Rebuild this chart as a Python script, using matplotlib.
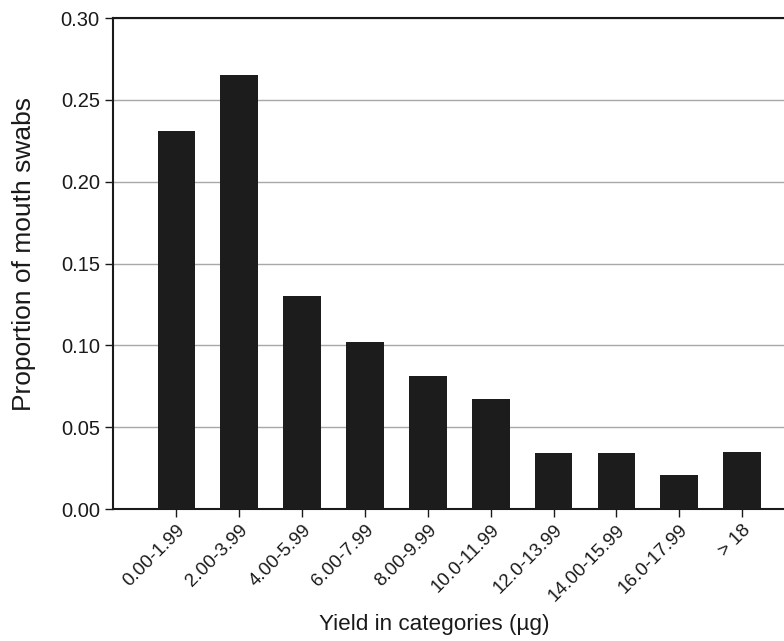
import matplotlib.pyplot as plt
import numpy as np

plt.rcParams['font.family'] = ['Liberation Sans', 'DejaVu Sans']

############## Data ##############

categories = ["0.00-1.99", "2.00-3.99", "4.00-5.99", "6.00-7.99", "8.00-9.99",
              "10.0-11.99", "12.0-13.99", "14.00-15.99", "16.0-17.99", "> 18"]
proportions = [0.231, 0.265, 0.130, 0.102, 0.081, 0.067, 0.034, 0.034, 0.021, 0.035]
yticks = [0.00, 0.05, 0.10, 0.15, 0.20, 0.25, 0.30]

############## Plot ##############

fig = plt.figure(figsize=(7.84, 6.41), dpi=100)
ax = fig.add_axes([0.1441, 0.2059, 0.8559 + 0.01, 0.766])

x = np.arange(len(categories))
ax.bar(x, proportions, width=0.6, color='#1c1c1c', zorder=3)

ax.set_xlim(-1.01, 9.79)
ax.set_ylim(0, 0.30)
ax.set_yticks(yticks)
ax.set_yticklabels(["%.2f" % v for v in yticks], fontsize=14.5)
ax.yaxis.grid(True, color='#a8a8a8', linewidth=1, zorder=0)

ax.set_xticks(x)
ax.set_xticklabels(categories, rotation=45, ha='right', rotation_mode='anchor', fontsize=13.5)

for side in ['left', 'bottom', 'top']:
    ax.spines[side].set_linewidth(1.5)
    ax.spines[side].set_color('#1a1a1a')
ax.spines['right'].set_visible(False)
ax.tick_params(direction='out', length=6, width=1, colors='#1a1a1a')
ax.tick_params(axis='x', pad=3)

# axis titles placed by hand to sit where the reference has them
fig.text(0.031, 0.6045, "Proportion of mouth swabs", fontsize=19,
         rotation=90, ha='center', va='center', color='#1a1a1a')
fig.text(0.5536, 0.025, "Yield in categories (µg)", fontsize=16.2,
         ha='center', va='center', color='#1a1a1a')

fig.savefig('out.png', dpi=100)
